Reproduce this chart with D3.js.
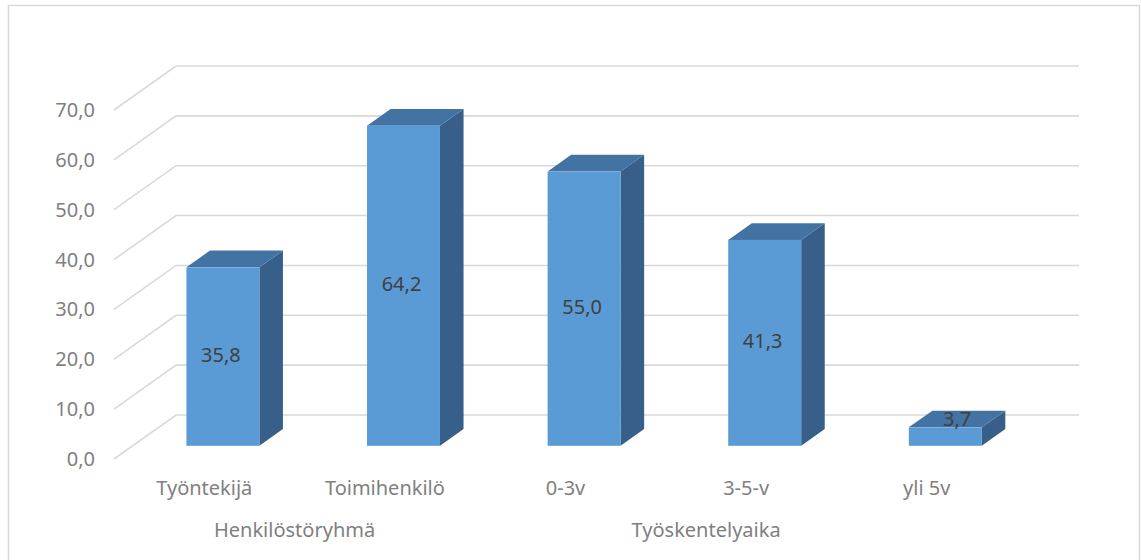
<!DOCTYPE html>
<html>
<head>
<meta charset="utf-8">
<script src="https://cdn.jsdelivr.net/npm/d3@7"></script>
<style>
  html, body { margin: 0; padding: 0; background: #fff; }
  svg { display: block; }
  text { font-family: "Noto Sans", "Open Sans", sans-serif; }
</style>
</head>
<body>
<svg id="chart" width="1141" height="560"></svg>
<script>
// ---- data ----
const categories = ["Työntekijä", "Toimihenkilö", "0-3v", "3-5-v", "yli 5v"];
const values = [35.8, 64.2, 55.0, 41.3, 3.7];
const groupNames = ["Henkilöstöryhmä", "Työskentelyaika"];
const groupSizes = [2, 3];
const yTicks = [0, 10, 20, 30, 40, 50, 60, 70];

// ---- layout ----
const W = 1141, H = 560;
const frontLeft = 114, frontRight = 1017;
const depthX = 62, depthY = 44;           // floor depth projection
const barDepthStart = 0.3, barDepthEnd = 0.68;
const barWidthFrac = 0.404;
const groupLabelNudge = [0, -40];

const fmt = d3.formatLocale({decimal: ",", thousands: " ", grouping: [3], currency: ["", "€"]}).format(".1f");

const svg = d3.select("#chart");

// chart border
svg.append("rect")
  .attr("x", 8.5).attr("y", 5.5)
  .attr("width", 1131).attr("height", 600)
  .attr("fill", "none").attr("stroke", "#d9d9d9").attr("stroke-width", 1.5);

const x = d3.scaleBand().domain(categories).range([frontLeft, frontRight]).padding(0);
const y = d3.scaleLinear().domain([0, 70]).range([459, 110]); // front plane

// projection with depth t in [0,1]
const px = (xv, t) => xv + t * depthX;
const py = (yv, t) => yv - t * depthY;

// gridlines: diagonal on side wall + horizontal on back wall
const grid = svg.append("g").attr("stroke", "#d9d9d9").attr("stroke-width", 1.6).attr("fill", "none");
yTicks.forEach(v => {
  grid.append("path").attr("d", d3.line()([
    [px(frontLeft, 0), y(v)],
    [px(frontLeft, 1), py(y(v), 1)],
    [px(frontRight, 1), py(y(v), 1)]
  ]));
});

// tick labels
svg.append("g").selectAll("text").data(yTicks).join("text")
  .attr("x", 95).attr("y", d => y(d)).attr("dy", "0.35em")
  .attr("text-anchor", "end")
  .attr("font-size", 20).attr("fill", "#7f7f7f")
  .text(d => fmt(d));

// bars
const barW = x.bandwidth() * barWidthFrac;
const dd = barDepthEnd - barDepthStart;
const bars = svg.append("g");
categories.forEach((c, i) => {
  const v = values[i];
  const cx = x(c) + x.bandwidth() / 2;
  const x0 = px(cx - barW / 2, barDepthStart), x1 = px(cx + barW / 2, barDepthStart);
  const yb = py(y(0), barDepthStart), yt = py(y(v), barDepthStart);
  const ox = dd * depthX, oy = dd * depthY;
  const g = bars.append("g");
  // side face
  g.append("path").attr("d", d3.line()([[x1, yt], [x1 + ox, yt - oy], [x1 + ox, yb - oy], [x1, yb]]) + "Z")
    .attr("fill", "#375f89");
  // top face
  g.append("path").attr("d", d3.line()([[x0, yt], [x0 + ox, yt - oy], [x1 + ox, yt - oy], [x1, yt]]) + "Z")
    .attr("fill", "#4373a3");
  // front face
  g.append("rect").attr("x", x0).attr("y", yt).attr("width", x1 - x0).attr("height", yb - yt)
    .attr("fill", "#5b9bd5");
  // value label
  const small = (yb - yt) < 30;
  const lx = small ? (x0 + x1) / 2 + ox / 2 : (x0 + x1) / 2 - 2;
  const ly = small ? yt - oy / 2 : (yt + yb) / 2 - 2;
  g.append("text").attr("x", lx).attr("y", ly).attr("dy", "0.35em")
    .attr("text-anchor", "middle").attr("font-size", 20).attr("fill", "#404040")
    .text(fmt(v));
});

// category labels
svg.append("g").selectAll("text").data(categories).join("text")
  .attr("x", d => x(d) + x.bandwidth() / 2)
  .attr("y", 488).attr("dy", "0.35em")
  .attr("text-anchor", "middle").attr("font-size", 20).attr("fill", "#7f7f7f")
  .text(d => d);

// group labels
let start = 0;
groupNames.forEach((gname, gi) => {
  const cats = categories.slice(start, start + groupSizes[gi]);
  const cx = d3.mean(cats, c => x(c) + x.bandwidth() / 2) + groupLabelNudge[gi];
  svg.append("text").attr("x", cx).attr("y", 530).attr("dy", "0.35em")
    .attr("text-anchor", "middle").attr("font-size", 20).attr("fill", "#7f7f7f")
    .text(gname);
  start += groupSizes[gi];
});
</script>
</body>
</html>
